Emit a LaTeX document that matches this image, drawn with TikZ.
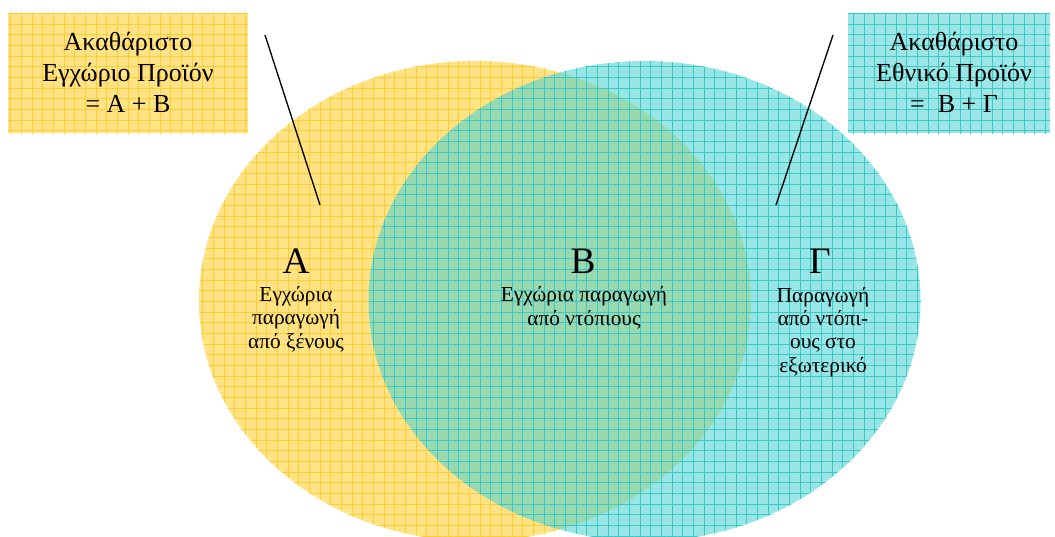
\documentclass[tikz,border=0pt]{standalone}
\usepackage{fontspec}
\setmainfont{Liberation Serif}
\usetikzlibrary{shapes.geometric,patterns.meta}
\definecolor{yfill}{HTML}{FFE385}
\definecolor{ygrid}{HTML}{FFCC33}
\definecolor{cfill}{HTML}{46D2D2}
\definecolor{cfillsolid}{HTML}{9CE6E6}
\definecolor{cgrid}{HTML}{3BC8C8}
\begin{document}
\begin{tikzpicture}[x=0.75pt,y=-0.75pt,
  yellowset/.style={fill=yfill, draw=none,
    postaction={pattern={Hatch[distance=8pt,angle=0,line width=0.6pt]}, pattern color=ygrid, fill opacity=0.85}},
  cyanset/.style={fill=cfill, fill opacity=0.55, draw=none,
    postaction={pattern={Hatch[distance=8pt,angle=0,line width=0.6pt]}, pattern color=cgrid, fill opacity=0.7}},
  cyanbox/.style={fill=cfillsolid, draw=none,
    postaction={pattern={Hatch[distance=8pt,angle=0,line width=0.6pt]}, pattern color=cgrid, fill opacity=0.7}},
  venn/.style={ellipse, minimum width=414pt, minimum height=360pt, inner sep=0pt},
  boxtext/.style={align=center, font=\fontsize{19.5}{23.25}\selectfont, inner sep=0pt},
  bigletter/.style={font=\fontsize{28}{32}\selectfont, inner sep=0pt, anchor=base},
  smalltext/.style={align=center, font=\fontsize{16}{17.6}\selectfont, inner sep=0pt},
  leader/.style={draw=black, line width=1pt}
]
\useasboundingbox (0,0) rectangle (1055,536);

% Venn ellipses
\node[venn, yellowset] (yell) at (475,301) {};
\node[venn, cyanset] (cyel) at (644.5,301) {};

% Boxes
\node[rectangle, minimum width=180pt, minimum height=90pt, inner sep=0pt, yellowset] (gdpbox) at (128,73) {};
\node[rectangle, minimum width=151.5pt, minimum height=90pt, inner sep=0pt, cyanbox] (gnpbox) at (949,73) {};

\node[boxtext] (gdptxt) at (128,72) {Ακαθάριστο\\Εγχώριο Προϊόν\\= Α + Β};
\node[boxtext] (gnptxt) at (954,72) {Ακαθάριστο\\Εθνικό Προϊόν\\=~~Β + Γ};

% Labels
\node[bigletter] (la) at (296,273) {Α};
\node[smalltext] (ta) at (296,319) {Εγχώρια\\παραγωγή\\από ξένους};

\node[bigletter] (lb) at (583,273) {Β};
\node[smalltext] (tb) at (584,308) {Εγχώρια παραγωγή\\από ντόπιους};

\node[bigletter] (lg) at (820,273) {Γ};
\node[smalltext] (tg) at (823,332) {Παραγωγή\\από ντόπι-\\ους στο\\εξωτερικό};

% Leader lines
\coordinate (p1) at (265,35);
\coordinate (q1) at (320,205);
\coordinate (p2) at (833,35);
\coordinate (q2) at (776,205);
\draw[leader] (p1) -- (q1);
\draw[leader] (p2) -- (q2);
\end{tikzpicture}
\end{document}
